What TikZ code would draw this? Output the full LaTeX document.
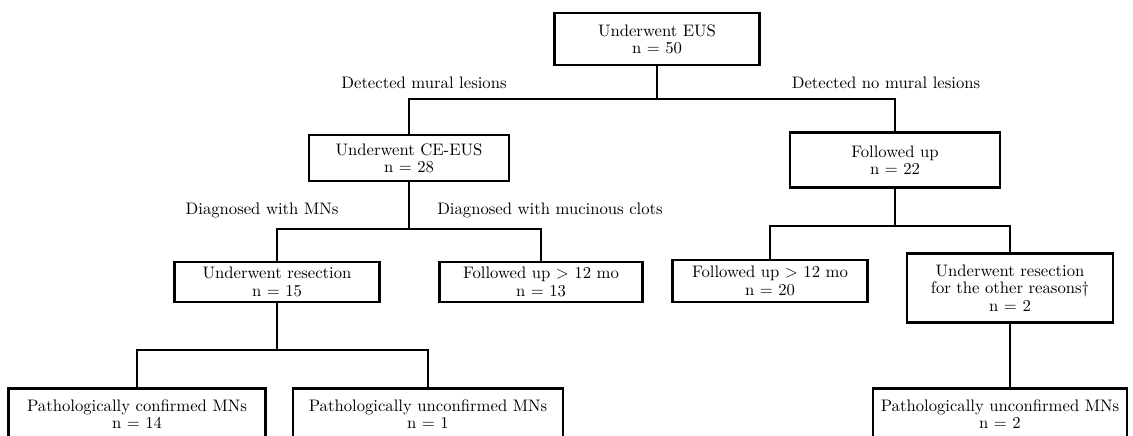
\documentclass[tikz,border=0pt]{standalone}
\usepackage{amsmath}
\usepackage{tikz}
\usetikzlibrary{calc,positioning}

\begin{document}
\begin{tikzpicture}[x=0.6pt,y=-0.6pt,
  box/.style={draw, line width=1.5pt, align=center, inner sep=0pt, font=\fontsize{10}{10.4}\selectfont},
  lbl/.style={inner sep=0pt, font=\fontsize{10}{10.4}\selectfont},
  conn/.style={line width=1.4pt}]
\useasboundingbox (0,0) rectangle (1133,435);
\node[box, minimum width=205*0.6pt, minimum height=52*0.6pt] (eus) at (657,39) {Underwent EUS\\ n = 50};
\node[box, minimum width=200*0.6pt, minimum height=46*0.6pt] (ce) at (409,158) {Underwent CE-EUS\\ n = 28};
\node[box, minimum width=210*0.6pt, minimum height=55*0.6pt] (fu) at (895,160) {Followed up\\ n = 22};
\node[box, minimum width=205*0.6pt, minimum height=40*0.6pt] (res) at (277,282) {Underwent resection\\ n = 15};
\node[box, minimum width=203*0.6pt, minimum height=40*0.6pt] (fua) at (541,282) {Followed up $>$ 12 mo\\ n = 13};
\node[box, minimum width=195*0.6pt, minimum height=42*0.6pt] (fub) at (770,281) {Followed up $>$ 12 mo\\ n = 20};
\node[box, minimum width=206*0.6pt, minimum height=69*0.6pt] (oth) at (1010,288) {Underwent resection\\ for the other reasons\textdagger\\ n = 2};
\node[box, minimum width=257*0.6pt, minimum height=52*0.6pt, anchor=north] (pc) at (137,387) {Pathologically confirmed MNs\\ n = 14};
\node[box, minimum width=270*0.6pt, minimum height=52*0.6pt, anchor=north] (pu) at (428,387) {Pathologically unconfirmed MNs\\ n = 1};
\node[box, minimum width=254*0.6pt, minimum height=52*0.6pt, anchor=north] (pu2) at (1000,387) {Pathologically unconfirmed MNs\\ n = 2};
\node[lbl] (dm) at (424,83) {Detected mural lesions};
\node[lbl] (dn) at (886,83) {Detected no mural lesions};
\node[lbl] (dmn) at (262,210) {Diagnosed with MNs};
\node[lbl] (dmc) at (550,210) {Diagnosed with mucinous clots};
\coordinate (j1) at (657,99);
\coordinate (j2) at (409,229);
\coordinate (j3) at (895,226);
\coordinate (j4) at (277,350);
\draw[conn] (eus) -- (j1);
\draw[conn] (ce.north) |- (j1) -| (fu.north);
\draw[conn] (ce) -- (j2);
\draw[conn] (res.north) |- (j2) -| (fua.north);
\draw[conn] (fu) -- (j3);
\draw[conn] (fub.north) |- (j3) -| (oth.north);
\draw[conn] (res) -- (j4);
\draw[conn] (pc.north) |- (j4) -| (pu.north);
\draw[conn] (oth.south) -- (oth.south |- pu2.north);
\end{tikzpicture}
\end{document}
